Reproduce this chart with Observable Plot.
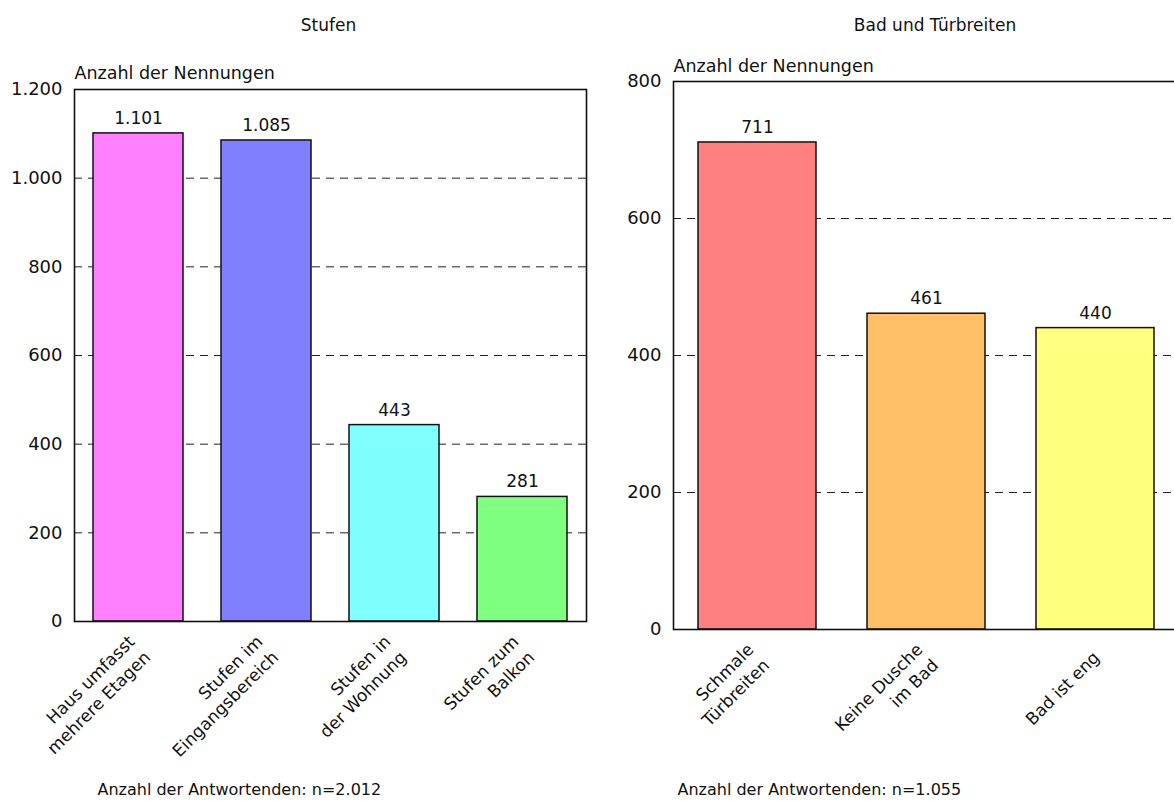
<!DOCTYPE html>
<html>
<head>
<meta charset="utf-8">
<script src="https://cdn.jsdelivr.net/npm/d3@7"></script>
<script src="https://cdn.jsdelivr.net/npm/@observablehq/plot@0.6"></script>
<style>
  html, body { margin: 0; padding: 0; background: #fff; overflow: hidden; }
  #wrap { position: relative; width: 1174px; height: 801px; overflow: hidden; }
  #wrap > svg, #wrap > figure { position: absolute; top: 0; margin: 0; }
</style>
</head>
<body>
<div id="wrap"></div>
<script>
// ---- Data ----
const titleStufen = "Stufen";
const categoriesStufen = ["Haus umfasst mehrere Etagen", "Stufen im Eingangsbereich", "Stufen in der Wohnung", "Stufen zum Balkon"];
const tickLabelsStufen = ["Haus umfasst\nmehrere Etagen", "Stufen im\nEingangsbereich", "Stufen in\nder Wohnung", "Stufen zum\nBalkon"];
const valuesStufen = [1101, 1085, 443, 281];
const colorsStufen = ["#FF80FF", "#8080FF", "#80FFFF", "#80FF80"];
const yTicksStufen = [0, 200, 400, 600, 800, 1000, 1200];
const gridStufen = [200, 400, 600, 800, 1000];
const footerStufen = "Anzahl der Antwortenden: n=2.012";

const titleBad = "Bad und Türbreiten";
const categoriesBad = ["Schmale Türbreiten", "Keine Dusche im Bad", "Bad ist eng"];
const tickLabelsBad = ["Schmale\nTürbreiten", "Keine Dusche\nim Bad", "Bad ist eng"];
const valuesBad = [711, 461, 440];
const colorsBad = ["#FF8080", "#FFC068", "#FFFF80"];
const yTicksBad = [0, 200, 400, 600, 800];
const gridBad = [200, 400, 600];
const footerBad = "Anzahl der Antwortenden: n=1.055";

const yLabel = "Anzahl der Nennungen";

// ---- Helpers ----
const de = d3.formatLocale({decimal: ",", thousands: ".", grouping: [3], currency: ["", " €"]});
const fmt = de.format(",d");
const FONT = "DejaVu Sans, Verdana, sans-serif";
const FS = 17;

function panel(cfg) {
  const data = cfg.categories.map((c, i) => ({cat: c, value: cfg.values[i], color: cfg.colors[i], label: cfg.tickLabels[i]}));
  return Plot.plot({
    width: cfg.width,
    height: 801,
    marginLeft: cfg.ml,
    marginRight: cfg.mr,
    marginTop: cfg.mt,
    marginBottom: cfg.mb,
    style: {fontFamily: FONT, fontSize: FS + "px", color: "#111", background: "transparent", overflow: "visible"},
    x: {domain: cfg.categories, paddingInner: 0.3, paddingOuter: 0.15, label: null},
    y: {domain: [0, cfg.yMax], label: null},
    marks: [
      Plot.ruleY(cfg.grid, {stroke: "#222", strokeWidth: 1, strokeDasharray: "8,6"}),
      Plot.barY(data, {x: "cat", y: "value", fill: "color", stroke: "#111", strokeWidth: 1.5}),
      Plot.frame({stroke: "#111", strokeWidth: 1.6}),
      Plot.text(data, {x: "cat", y: "value", text: d => fmt(d.value), dy: -15, lineAnchor: "middle", fontSize: FS, fill: "#111"}),
      Plot.axisY({ticks: cfg.yTicks, tickFormat: fmt, tickSize: 0, tickPadding: 12, fontSize: 18, label: null}),
      Plot.axisX({tickSize: 0, tickPadding: 24, tickRotate: -45, fontSize: FS, lineHeight: 1.3,
        tickFormat: d => cfg.tickLabels[cfg.categories.indexOf(d)], label: null}),
      Plot.text([cfg.title], {frameAnchor: "top", lineAnchor: "middle", dy: cfg.titleDy, dx: cfg.titleDx, fontSize: FS, fill: "#111"}),
      Plot.text([yLabel], {frameAnchor: "top-left", lineAnchor: "middle", textAnchor: "start", dy: cfg.labelDy, fontSize: 17.5, fill: "#111"}),
      Plot.text([cfg.footer], {frameAnchor: "bottom-left", lineAnchor: "middle", textAnchor: "start", dx: cfg.footDx, dy: cfg.footDy, fontSize: 16, fill: "#111"})
    ]
  });
}

const left = panel({
  width: 600, ml: 74, mr: 14, mt: 89, mb: 180,
  categories: categoriesStufen, tickLabels: tickLabelsStufen, values: valuesStufen, colors: colorsStufen,
  yMax: 1200, yTicks: yTicksStufen, grid: gridStufen, title: titleStufen, titleDy: -64, titleDx: -2,
  labelDy: -16, footer: footerStufen, footDx: 23, footDy: 168
});
const right = panel({
  width: 600, ml: 73, mr: 20, mt: 81, mb: 172,
  categories: categoriesBad, tickLabels: tickLabelsBad, values: valuesBad, colors: colorsBad,
  yMax: 800, yTicks: yTicksBad, grid: gridBad, title: titleBad, titleDy: -56, titleDx: 8,
  labelDy: -15, footer: footerBad, footDx: 4, footDy: 160
});
left.style.left = "0px";
right.style.left = "600px";
const wrap = document.getElementById("wrap");
wrap.appendChild(left);
wrap.appendChild(right);
</script>
</body>
</html>
